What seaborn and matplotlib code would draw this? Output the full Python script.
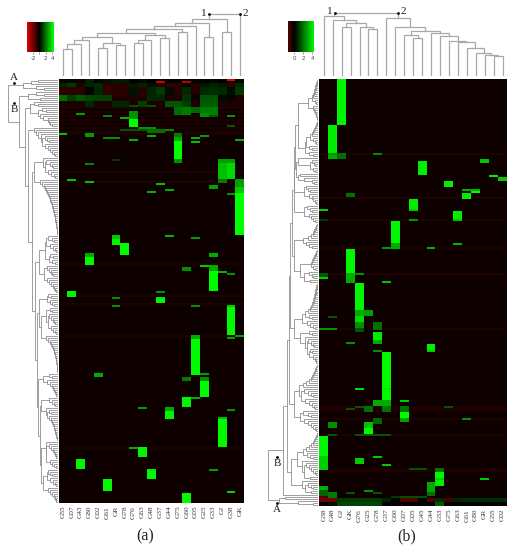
import numpy as np
import matplotlib
matplotlib.use("Agg")
import matplotlib.pyplot as plt
from matplotlib.colors import LinearSegmentedColormap
import seaborn as sns

W, H = 516, 550
SERIF = "Liberation Serif"

labels_a = ["G55", "G07", "G43", "G80", "G02", "G61", "GR", "G78", "G76", "G63", "G48",
            "G37", "G44", "G75", "G60", "G05", "G25", "G33", "GJ", "G38", "GK"]
labels_b = ["G38", "G48", "GJ", "GK", "G76", "G25", "G78", "G37", "G60", "G07", "G05",
            "G45", "G44", "G33", "G75", "G63", "G61", "G80", "GR", "G55", "G02"]

n_rows_a = 212
n_rows_b = 214
background = -0.25

# top of panel a is noisy, one row of values per band
band_rows_a = [(0, 2), (2, 4), (4, 8), (8, 11), (11, 14)]
band_values_a = [
    [-.2, .1, -.2, .6, 0, .3, .5, .5, 0, .1, 0, 0, .1, 0, 0, .1, 0, .1, 0, .1, .1],
    [.7, 1, -.6, .6, .8, -.8, -.8, -.7, .4, .6, .3, -.7, -.9, -.8, .2, -.7, .4, .6, .4, -.9, .7],
    [-.8, -.8, -.8, .1, .7, -.9, -.8, -.7, .3, -.7, .6, 1, .2, -.7, .7, -.6, .7, .8, .7, .2, 1],
    [1.9, 1.1, 1.5, 1.2, 1.1, 1.1, -.5, -.5, -.5, -.5, .7, .6, -.5, -.5, .9, -.3, 1.5, 1.5, .2, .1, -.5],
    [-.5, -.5, -.5, .7, -.5, -.5, .7, .7, -.5, 1.1, -.5, -.5, 1.5, 1.5, 1.1, -.5, 1.6, 1.6, -.5, -.5, -.5],
]

# column, first row, end row, value
blocks_a = [
    (11, 1, 2, -3.5), (14, 1, 2, -3.2), (19, 0, 1, -4.2),
    (8, 13, 14, 1.4), (10, 13, 14, 1.4), (13, 14, 18, 1.9), (14, 14, 18, 2.2),
    (15, 14, 17, 1.8), (16, 14, 17, 2.1), (17, 14, 18, 2.2), (16, 17, 19, 2.6),
    (17, 18, 19, 1.6), (2, 17, 18, 2.2), (5, 18, 19, 1.8), (19, 18, 19, 2),
    (8, 16, 20, 2.6), (8, 20, 24, 4.5), (7, 19, 20, 2.5), (19, 23, 24, 1.5),
    (9, 24, 25, 2), (10, 24, 25, 2), (7, 25, 26, 1.5), (8, 25, 26, 1.5),
    (9, 25, 26, 1.6), (10, 25, 27, 2), (11, 25, 27, 2), (12, 25, 26, 1.8),
    (0, 27, 28, 2.8), (3, 27, 29, 2.8), (10, 28, 29, 2.5), (16, 28, 29, 2.2),
    (13, 27, 29, 2.2), (13, 29, 31, 3), (13, 31, 40, 4.5), (13, 40, 42, 2.6),
    (15, 29, 30, 2.5), (15, 31, 32, 2.8), (5, 29, 30, 2), (6, 29, 30, 2),
    (8, 30, 31, 2.5), (20, 30, 31, 2.5), (6, 40, 41, 1), (3, 42, 43, 1.8),
]
blocks_a += [
    (18, 40, 42, 2.8), (18, 42, 50, 3.4), (18, 50, 52, 2.2),
    (19, 40, 42, 2.8), (19, 42, 50, 3.8), (1, 50, 51, 2.8), (3, 51, 52, 2.8),
    (11, 52, 53, 2.8), (17, 53, 55, 2.8), (12, 55, 56, 2.5), (10, 56, 57, 2.5),
    (19, 57, 58, 2), (20, 50, 54, 2.8), (20, 54, 57, 3.6), (20, 57, 78, 4.5),
    (6, 78, 80, 3.5), (6, 80, 83, 4.3), (7, 82, 88, 4.4), (12, 78, 79, 2.5),
    (15, 79, 80, 2.2), (3, 87, 89, 3), (3, 89, 93, 4.4), (17, 87, 89, 3),
    (16, 93, 94, 3), (17, 93, 96, 3), (17, 96, 106, 4.4), (18, 96, 97, 2.5),
    (19, 97, 98, 2), (14, 94, 96, 2.5), (1, 106, 109, 4.3), (11, 106, 107, 2),
    (6, 109, 110, 2), (11, 109, 110, 3.5), (11, 110, 112, 4.4), (6, 113, 114, 2),
    (15, 113, 114, 2), (19, 113, 114, 3), (19, 114, 128, 4.4), (19, 129, 130, 2.2),
    (20, 128, 129, 2.2), (15, 128, 130, 3), (15, 130, 148, 4.4),
]
blocks_a += [
    (4, 147, 149, 3), (16, 147, 148, 2.2), (14, 149, 151, 2.2), (16, 149, 151, 2.5),
    (16, 151, 159, 4.4), (14, 159, 164, 4.3), (15, 159, 160, 2.4), (9, 164, 165, 2.2),
    (19, 165, 166, 2), (12, 164, 166, 3), (12, 166, 170, 4.3), (18, 169, 170, 2.8),
    (18, 170, 184, 4.4), (8, 184, 185, 2.4), (9, 184, 189, 4.3), (2, 190, 195, 4.3),
    (17, 195, 196, 2.2), (10, 195, 196, 3.5), (10, 196, 200, 4.4), (5, 200, 206, 4.4),
    (19, 206, 207, 3), (14, 207, 212, 4.4),
]
red_rows_a = [14, 16, 18, 20, 22, 24, 26, 27, 46, 51, 92, 108, 112, 128, 184]

blocks_b = [
    (2, 0, 23, 4.3), (1, 23, 37, 4.2), (1, 37, 38, 2), (1, 38, 40, 3), (2, 37, 40, 2),
    (6, 37, 38, 1.8), (18, 40, 42, 3.5), (11, 41, 48, 4.2), (19, 48, 49, 3.5),
    (20, 49, 51, 3.5), (14, 51, 54, 4.2), (16, 55, 56, 2.5), (17, 55, 56, 2.5),
    (17, 56, 57, 3.8), (16, 57, 60, 4.2), (3, 57, 59, 2), (10, 60, 65, 4.2),
    (10, 65, 66, 3), (0, 65, 66, 3), (0, 70, 71, 1), (10, 70, 71, 2), (15, 66, 70, 4.2),
    (15, 70, 71, 3), (8, 71, 82, 4.3), (8, 82, 85, 3), (7, 84, 85, 2), (12, 84, 85, 2.5),
    (15, 82, 83, 2.5), (3, 85, 97, 4.3), (3, 97, 102, 3), (0, 97, 99, 1.5), (0, 99, 100, 3),
    (4, 97, 98, 2), (7, 101, 102, 2.8),
]
blocks_b += [
    (4, 102, 116, 4.3), (4, 116, 119, 3), (4, 119, 122, 3.8), (4, 122, 125, 2.5),
    (4, 125, 127, 1.5), (5, 116, 119, 2.8), (1, 119, 120, 1.5), (0, 125, 126, 2),
    (1, 125, 126, 2), (6, 122, 126, 2), (6, 127, 131, 4.2), (6, 131, 133, 3),
    (3, 132, 133, 2), (6, 136, 137, 2), (12, 133, 136, 4.2), (12, 136, 137, 3),
    (7, 137, 155, 4.4), (7, 155, 156, 3.5), (7, 156, 161, 4.4), (7, 161, 164, 3),
    (7, 164, 167, 2), (6, 161, 164, 3), (9, 161, 162, 3), (4, 155, 156, 3.4),
    (4, 164, 165, 1.5), (3, 165, 166, 1.5), (5, 164, 167, 2), (14, 164, 165, 1.5),
    (9, 164, 167, 2), (9, 167, 170, 4.4), (9, 170, 172, 2.8), (16, 170, 171, 2),
    (6, 170, 173, 1.8), (1, 172, 175, 2.5), (5, 172, 175, 3.4), (5, 175, 178, 4.4),
]
blocks_b += [
    (1, 178, 179, 1.5), (4, 178, 179, 1.5), (5, 178, 179, 1.5), (6, 178, 179, 1.5),
    (7, 178, 179, 1.5), (0, 179, 189, 4.3), (0, 189, 196, 3.6), (4, 190, 193, 3.6),
    (6, 189, 190, 3), (7, 193, 194, 3), (10, 195, 196, 1.5), (11, 195, 196, 1.5),
    (13, 195, 197, 2), (13, 197, 200, 4.3), (13, 200, 201, 3), (13, 201, 204, 4.2),
    (18, 200, 201, 3), (12, 202, 207, 3), (12, 207, 209, 2), (0, 204, 206, 3),
    (0, 206, 209, 1.8), (1, 207, 210, 2.2), (3, 207, 208, 1.5), (5, 206, 207, 2),
    (6, 207, 208, 1.5), (0, 209, 210, -1.5), (8, 209, 210, 1), (9, 209, 210, 1.5),
    (10, 209, 210, 1.5), (11, 209, 210, 1.5),
]
last_band_b = [-2, -2, 1, 1, 1, 1, 1, .6, 0, -1.5, -1.5, 0, -1.5, .8, -1.2, .6, .8, .8, .8, .8, .8]
final_band_b = [0, .3, 1.2, 1.2, 1.2, 1.2, 1.2, 0, 0, 0, 0, 0, 0, 1.5, 0, 0, 0, 0, 0, 0, 0]
red_rows_b = [37, 59, 70, 84, 97, 125, 164, 165, 166, 170, 178, 195, 196]

# merge height (px) between neighbouring leaves, splitting at the largest gives the tree
col_gaps_a = [27, 32, 36, 39, 28, 33, 31, 43, 33, 36, 41, 38, 47, 44, 50, 53, 39, 57, 44, 62]
col_gaps_b = [60, 56, 49, 53, 49, 47, 63, 58, 49, 41, 38, 45, 43, 40, 35, 34, 28, 23, 21, 20]

row_gaps_a = (
    [20, 27, 35, 22, 14] + [50]
    + [22, 14, 30, 18] + [39]
    + [24, 20, 28, 16, 12, 20, 18, 15, 10, 9, 8, 6] + [33]
    + [24, 22, 20, 17, 13, 11, 9, 16, 13, 10, 8, 6, 4, 3] + [30]
    + [15, 12, 8, 6, 5, 13, 10, 7, 4, 3] + [24]
    + [18, 16, 14, 13, 12, 11, 10, 9, 8, 8, 7, 6, 6, 5, 5, 4, 4, 3, 3, 3, 2, 2, 2, 1, 1, 1, 1] + [26]
    + [10, 6, 4, 12, 8, 5, 3, 2] + [13]
    + [8, 5, 9, 6, 3] + [19]
    + [11, 9, 7, 6, 5, 14, 11, 9, 7, 5, 4, 3, 2] + [23]
    + [10, 7, 11, 8, 6, 4] + [19]
    + [8, 6, 12, 9, 7, 5, 4, 3, 10, 7, 5, 3, 2] + [17]
    + [12, 10, 8, 7, 6, 5, 4, 4, 3, 3, 2, 2, 2, 1, 1, 1, 1, 1] + [21]
    + [9, 6, 15, 11, 8, 6, 5, 4, 3, 2, 2] + [20]
    + [9, 6, 4, 3] + [17]
    + [12, 9, 7, 11, 9, 7, 6, 5, 4, 4, 3, 3, 2, 2, 1, 1] + [18]
    + [12, 9, 7, 5, 4, 3, 2, 2] + [12]
    + [8, 6, 4, 2] + [17]
    + [10, 8, 6, 11, 8, 5, 3, 2] + [15]
    + [10, 8, 6, 4, 3, 2, 2]
)
row_gaps_b = (
    [1, 1, 1, 2, 2, 3, 3, 4, 5, 6, 3, 2, 10, 5, 4, 3, 2, 2, 1, 1] + [20]
    + [1, 1, 2, 3, 4, 5, 6, 8, 5, 3, 2, 12, 9, 6, 13, 9, 5] + [23]
    + [20] + [6, 4, 3, 8, 5, 3] + [22]
    + [18, 20, 14, 6, 4] + [24]
    + [12, 10, 8, 14, 9, 6, 5, 3, 2] + [24.5]
    + [11, 8, 6, 14, 9, 7, 5, 3] + [26]
    + [1, 2, 2, 3, 4, 5, 7, 10, 15, 12, 9, 6] + [24]
    + [1, 2, 2, 3, 4, 5, 6, 7, 5, 3, 18, 9, 6, 5, 14, 8] + [28]
    + [1, 1, 1, 2, 2, 2, 3, 3, 4, 4, 5, 6, 7, 8, 10, 13, 9, 6, 16, 11, 8, 5, 3] + [24]
    + [9, 6, 18, 13, 10, 7, 5, 4, 11, 8, 6, 9, 5, 3, 2, 2] + [29]
    + [1, 2, 2, 3, 4, 5, 6, 7, 9, 12, 15, 19, 14, 10, 7, 5, 17, 13, 9, 6, 4, 3] + [24]
    + [15, 10, 7, 18, 14, 10, 7, 5, 3, 2] + [31]
    + [1, 1, 2, 3, 4, 5, 7, 9, 12, 15, 11, 8, 5, 21, 16, 12, 9, 7, 5, 3, 2, 14, 8] + [27]
    + [16, 10, 7, 5, 13, 7] + [35]
    + [50.5]
    + [33, 39, 20, 5]
)

legend_range_a = (-3.9, 4.5)
legend_range_b = (-1.4, 4.45)
legend_ticks_a = [-2, 0, 2, 4]
legend_ticks_b = [0, 2, 4]
legend_labels_a = ["-2", "", "2", "4"]
legend_labels_b = ["0", "2", "4"]

cmap = LinearSegmentedColormap.from_list("rg", ["#ff0000", "#000000", "#00ff00"])


def apply_blocks(mat, blocks):
    for col, r0, r1, val in blocks:
        # the one row strips look brighter in the reference
        if r1 - r0 == 1 and val >= 1.8:
            val = min(val + 0.6, 4.5)
        mat[r0:r1, col] = val


def box(fig, x0, y0, x1, y1):
    return fig.add_axes([x0 / W, 1 - y1 / H, (x1 - x0) / W, (y1 - y0) / H])


def tree_lines(ax, gaps, lo, hi, horizontal):
    if lo == hi:
        return lo + 0.5, 0
    split = lo + int(np.argmax(gaps[lo:hi]))
    pos1, h1 = tree_lines(ax, gaps, lo, split, horizontal)
    pos2, h2 = tree_lines(ax, gaps, split + 1, hi, horizontal)
    h = gaps[split]
    a = [h1, h, h, h2]
    b = [pos1, pos1, pos2, pos2]
    if horizontal:
        ax.plot(b, a, color="#a8a8a8", lw=0.9, solid_joinstyle="miter")
    else:
        ax.plot(a, b, color="#8f8f8f", lw=0.6, solid_joinstyle="miter")
    return (pos1 + pos2) / 2, h


def panel(fig, mat, labels, hm_box, row_gaps, col_gaps, leg_box, leg_range, leg_ticks, leg_labels):
    x0, y0, x1, y1 = hm_box

    ax = box(fig, x0, y0, x1, y1)
    sns.heatmap(mat, ax=ax, cmap=cmap, vmin=-4.5, vmax=4.5, cbar=False,
                xticklabels=labels, yticklabels=False)
    ax.tick_params(axis="x", length=0, pad=2, labelsize=5.3, labelcolor="#333333")
    for t in ax.get_xticklabels():
        t.set_rotation(90)
        t.set_family(SERIF)

    # column tree, data units are pixels above its baseline
    top = box(fig, x0, 0, x1, y0 - 3)
    tree_lines(top, col_gaps, 0, len(col_gaps), True)
    top.set_xlim(0, 21)
    top.set_ylim(0, y0 - 3)
    top.axis("off")

    # row tree, data units are pixels left of its baseline
    left = box(fig, 0, y0, x0 - 1, y1)
    tree_lines(left, row_gaps, 0, len(row_gaps), False)
    left.set_xlim(x0 - 1, 0)
    left.set_ylim(mat.shape[0], 0)
    left.axis("off")

    leg = box(fig, *leg_box)
    lo, hi = leg_range
    vals = np.linspace(lo, hi, 120).reshape(1, -1)
    sns.heatmap(vals, ax=leg, cmap=cmap, vmin=-4.5, vmax=4.5, cbar=False,
                xticklabels=False, yticklabels=False)
    leg.set_xticks([(v - lo) / (hi - lo) * 120 for v in leg_ticks])
    leg.set_xticklabels(leg_labels)
    leg.tick_params(axis="x", length=1.5, width=0.4, pad=1.5, labelsize=4, labelcolor="#444444",
                    color="#444444", labelrotation=0)


mat_a = np.full((n_rows_a, 21), background)
mat_a[red_rows_a, :] = -0.5
for (r0, r1), vals in zip(band_rows_a, band_values_a):
    mat_a[r0:r1, :] = vals
apply_blocks(mat_a, blocks_a)

mat_b = np.full((n_rows_b, 21), background)
mat_b[red_rows_b, :] = -0.5
apply_blocks(mat_b, blocks_b)
mat_b[210:212, :] = last_band_b
mat_b[212:214, :] = final_band_b

fig = plt.figure(figsize=(W / 100, H / 100), dpi=100)

panel(fig, mat_a, labels_a, (58.5, 79, 244.3, 503), row_gaps_a, col_gaps_a,
      (27, 21.7, 53.7, 52), legend_range_a, legend_ticks_a, legend_labels_a)
panel(fig, mat_b, labels_b, (319.3, 79, 507, 506), row_gaps_b, col_gaps_b,
      (288, 21, 314.3, 52), legend_range_b, legend_ticks_b, legend_labels_b)

# letters and dots on the trees, figure pixels
over = fig.add_axes([0, 0, 1, 1])
over.set_xlim(0, W)
over.set_ylim(H, 0)
over.axis("off")
over.patch.set_alpha(0)

notes = [("A", 14, 78), ("B", 14, 109), ("1", 204, 13), ("2", 245, 13),
         ("1", 330, 11.5), ("2", 403.7, 11.5), ("A", 277, 509), ("B", 277, 464)]
for txt, x, y in notes:
    over.text(x, y, txt, family=SERIF, fontsize=8, ha="center", va="center", color="#222222")

dots_x = [13.5, 13.5, 209.3, 240, 334.7, 398, 277, 277]
dots_y = [83, 103, 14, 14, 13, 13, 503, 457]
over.scatter(dots_x, dots_y, s=4, color="black", linewidths=0)

over.text(145, 536, "(a)", family=SERIF, fontsize=11.5, ha="center", va="center", color="#222222")
over.text(407, 536, "(b)", family=SERIF, fontsize=11.5, ha="center", va="center", color="#222222")

fig.savefig("out.png", dpi=100)
